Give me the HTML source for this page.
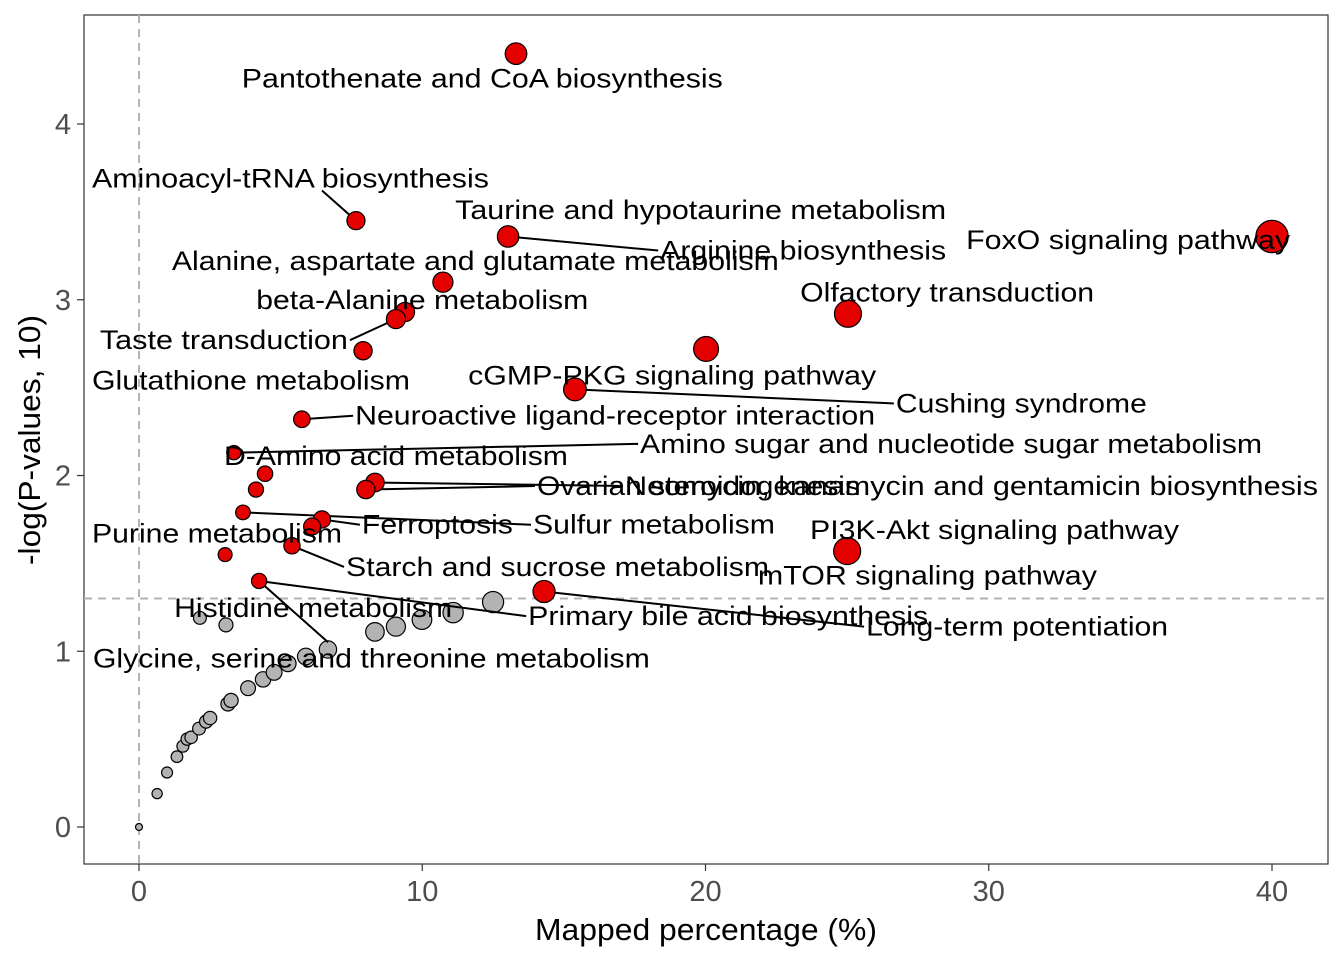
<!DOCTYPE html>
<html><head><meta charset="utf-8">
<style>
html,body{margin:0;padding:0;background:#fff;}
svg text{font-family:"Liberation Sans",Arial,sans-serif;}
</style></head>
<body>
<svg id="chart" width="1344" height="960" xmlns="http://www.w3.org/2000/svg">
<rect x="0" y="0" width="1344" height="960" fill="#fff"/>
<g id="plot"></g>
</svg>
<script>
// Data arrays
const sigX = [13.31,7.66,13.03,40,10.73,9.39,9.07,25.03,7.91,20.02,15.39,5.75,3.35,4.45,4.13,8.33,8.01,3.67,6.46,6.11,3.04,5.40,25.0,14.3,4.24];
const sigY = [4.40,3.45,3.36,3.36,3.10,2.93,2.89,2.92,2.71,2.72,2.49,2.32,2.13,2.01,1.92,1.96,1.92,1.79,1.75,1.71,1.55,1.60,1.57,1.34,1.40];
const nsX = [0,0.64,0.99,1.34,1.55,1.70,1.84,2.12,2.37,2.51,3.14,3.25,3.85,4.38,4.77,5.26,5.89,6.67,8.33,9.07,9.99,11.09,12.5,2.15,3.07];
const nsY = [0,0.19,0.31,0.40,0.46,0.50,0.51,0.56,0.60,0.62,0.70,0.72,0.79,0.84,0.88,0.93,0.97,1.01,1.11,1.14,1.18,1.22,1.28,1.19,1.15];
const labelText = ["Pantothenate and CoA biosynthesis","Aminoacyl-tRNA biosynthesis","Taurine and hypotaurine metabolism","Arginine biosynthesis","FoxO signaling pathway","Alanine, aspartate and glutamate metabolism","beta-Alanine metabolism","Olfactory transduction","Taste transduction","Glutathione metabolism","cGMP-PKG signaling pathway","Cushing syndrome","Neuroactive ligand-receptor interaction","Amino sugar and nucleotide sugar metabolism","D-Amino acid metabolism","Neomycin, kanamycin and gentamicin biosynthesis","Ovarian steroidogenesis","Sulfur metabolism","Ferroptosis","Purine metabolism","PI3K-Akt signaling pathway","Starch and sucrose metabolism","mTOR signaling pathway","Histidine metabolism","Primary bile acid biosynthesis","Long-term potentiation","Glycine, serine and threonine metabolism"];
const labelX = [3.63,-1.66,11.16,18.40,29.2,1.16,4.14,23.34,-1.38,-1.66,11.62,26.72,7.63,17.69,3.0,17.16,14.05,13.91,7.87,-1.66,23.69,7.31,21.85,1.24,13.74,25.67,-1.63];
const labelY = [4.26,3.69,3.51,3.28,3.34,3.22,3.00,3.04,2.77,2.54,2.57,2.41,2.34,2.18,2.11,1.94,1.94,1.72,1.72,1.67,1.69,1.48,1.43,1.245,1.20,1.14,0.96];
const labelW = [481,397,491,286,324,607,332,294,248,318,408,251,520,622,344,693,323,242,151,250,369,423,339,278,400,302,557];
// index of significant point each label connects to (-1 = none)
const labelPt = [-1,1,-1,2,-1,-1,-1,-1,6,-1,-1,10,11,12,-1,15,16,17,18,-1,-1,21,-1,-1,24,23,24];

const X0=139, XS=28.325, Y0=827, YS=175.75;
const sx = v => X0 + v*XS;
const sy = v => Y0 - v*YS;
const rad = v => 3.5 + 2*Math.sqrt(v);
const NS='http://www.w3.org/2000/svg';
const g=document.getElementById('plot');
function mk(tag, attrs, parent){const e=document.createElementNS(NS,tag);for(const k in attrs)e.setAttribute(k,attrs[k]);(parent||g).appendChild(e);return e;}

const panel = mk('rect',{x:84,y:15,width:1244,height:849,fill:'#fff',stroke:'#333','stroke-width':1.2});


const vl = mk('line',{x1:sx(0),x2:sx(0),y1:15,y2:864,stroke:'#b3b3b3','stroke-width':2,'stroke-dasharray':'8,6'});


const hl = mk('line',{x1:84,x2:1328,y1:sy(1.3),y2:sy(1.3),stroke:'#b3b3b3','stroke-width':2,'stroke-dasharray':'8,6'});



const xTicks=[0,10,20,30,40], yTicks=[0,1,2,3,4];
xTicks.forEach(t=>{
  const l = mk('line',{x1:sx(t),x2:sx(t),y1:864,y2:871,stroke:'#333','stroke-width':1.2});
  
  
  const tx = mk('text',{x:sx(t),y:901,'font-size':29,fill:'#4d4d4d','text-anchor':'middle'});
  tx.textContent=t;
  
  
});
yTicks.forEach(t=>{
  const l = mk('line',{x1:77,x2:84,y1:sy(t),y2:sy(t),stroke:'#333','stroke-width':1.2});
  
  
  const tx = mk('text',{x:71,y:sy(t)+10,'font-size':29,fill:'#4d4d4d','text-anchor':'end'});
  tx.textContent=t;
  
  
});
const xt = mk('text',{x:535,y:940,'font-size':31,fill:'#000',textLength:342,lengthAdjust:'spacingAndGlyphs'});
xt.textContent='Mapped percentage (%)';


const yt = mk('text',{x:-125,y:0,'font-size':31,fill:'#000',textLength:250,lengthAdjust:'spacingAndGlyphs',transform:'translate(40,440) rotate(-90)'});
yt.textContent='-log(P-values, 10)';



nsX.forEach((v,i)=>{
  const c = mk('circle',{cx:sx(v),cy:sy(nsY[i]),r:rad(v),fill:'#b3b3b3',stroke:'#000','stroke-width':1.2});
  
  
});
labelText.forEach((t,i)=>{
  const p=labelPt[i]; if(p<0) return;
  const lx=sx(labelX[i]), mid=sy(labelY[i]);
  const px=sx(sigX[p]), py=sy(sigY[p]);
  let ex, ey;
  if (px < lx) { ex = lx-2; ey = mid; }
  else if (px > lx+labelW[i]) { ex = lx+labelW[i]+2; ey = mid; }
  else if (py < mid) { ex = px+69; ey = mid-16; }
  else { ex = px-34; ey = mid+12; }
  const s = mk('line',{x1:px,y1:py,x2:ex,y2:ey,stroke:'#000','stroke-width':2});
  
  
});
sigX.forEach((v,i)=>{
  const c = mk('circle',{cx:sx(v),cy:sy(sigY[i]),r:rad(v),fill:'#e50000',stroke:'#000','stroke-width':1.2});
  
  
});
labelText.forEach((t,i)=>{
  const tx = mk('text',{x:sx(labelX[i]),y:sy(labelY[i])+9,'font-size':27,fill:'#000',textLength:labelW[i],lengthAdjust:'spacingAndGlyphs'});
  tx.textContent=t;
  
  
});
</script>
</body></html>
